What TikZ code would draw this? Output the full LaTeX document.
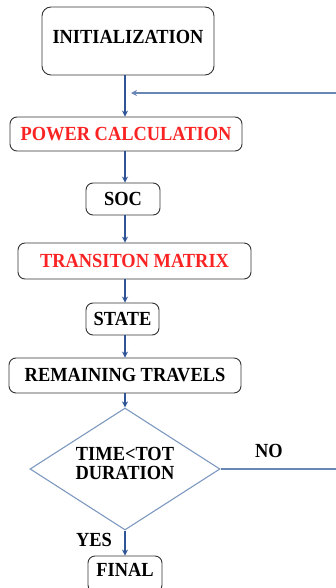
\documentclass[tikz,border=0pt]{standalone}
\usepackage{fontspec}
\setmainfont[FakeStretch=0.92]{Liberation Serif}
\usetikzlibrary{shapes.geometric, arrows.meta}

\begin{document}
\begin{tikzpicture}[x=1pt, y=-1pt, >={Stealth[length=6pt, width=6pt]},
    font=\bfseries\fontsize{20}{17}\selectfont,
    boite/.style={draw=black!80, line width=0.9pt, rounded corners=7pt, inner sep=0pt},
    fleche/.style={->, flecheBleu, line width=1.1pt},
    boucle/.style={->, boucleBleu, line width=1.3pt}]
    % --- CONFIGURATION ---
    \definecolor{flecheBleu}{RGB}{47, 85, 150}    % fleches principales
    \definecolor{boucleBleu}{RGB}{105, 135, 180}  % retour NO
    \definecolor{losange}{RGB}{125, 152, 192}     % bord du test
    \definecolor{rougeTexte}{RGB}{250, 35, 35}    % etapes en rouge

    % Cadre de l'image
    \useasboundingbox (0,0) rectangle (336,588);

    % --- ETAPES ---
    \node[boite, minimum width=172pt, minimum height=68pt, rounded corners=9pt, text depth=8pt] (init) at (128,41) {INITIALIZATION};
    \node[boite, minimum width=232pt, minimum height=34pt, text=rougeTexte] (power) at (126,134) {POWER CALCULATION};
    \node[boite, minimum width=74pt, minimum height=32pt] (soc) at (123,199) {SOC};
    \node[boite, minimum width=233pt, minimum height=36pt, text=rougeTexte] (trans) at (134.5,261) {TRANSITON MATRIX};
    \node[boite, minimum width=73pt, minimum height=32pt] (state) at (122.5,319) {STATE};
    \node[boite, minimum width=232pt, minimum height=35pt] (remain) at (125,375.5) {REMAINING TRAVELS};

    % Test de duree
    \node[diamond, draw=losange, line width=1.1pt, inner sep=0pt, shape aspect=1.6,
        minimum width=190pt, minimum height=122pt, align=center,
        font=\bfseries\fontsize{20}{19}\selectfont] (test) at (125,469) {TIME<TOT\\DURATION\\[-7pt]};

    \node[boite, minimum width=74pt, minimum height=36pt, text depth=8pt] (final) at (125,574) {FINAL};

    % Reponses
    \node (oui) at (94,540) {YES};
    \node (non) at (269,451) {NO};

    % --- LIAISONS ---
    \coordinate (axe) at (125,0);
    \draw[fleche] (init.south -| axe) -- (power.north -| axe);
    \draw[fleche] (power.south -| axe) -- (soc.north -| axe);
    \draw[fleche] (soc.south -| axe) -- (trans.north -| axe);
    \draw[fleche] (trans.south -| axe) -- (state.north -| axe);
    \draw[fleche] (state.south -| axe) -- (remain.north -| axe);
    \draw[fleche] (remain.south -| axe) -- (test.north);
    \draw[fleche] (test.south) -- (final.north);

    % Retour vers le calcul (hors cadre a droite)
    \coordinate (retourBas) at (345,469);
    \coordinate (retourHaut) at (345,93);
    \coordinate (retourFin) at (131,93);
    \draw[boucle] (test.east) -- (retourBas) -- (retourHaut) -- (retourFin);
\end{tikzpicture}
\end{document}
